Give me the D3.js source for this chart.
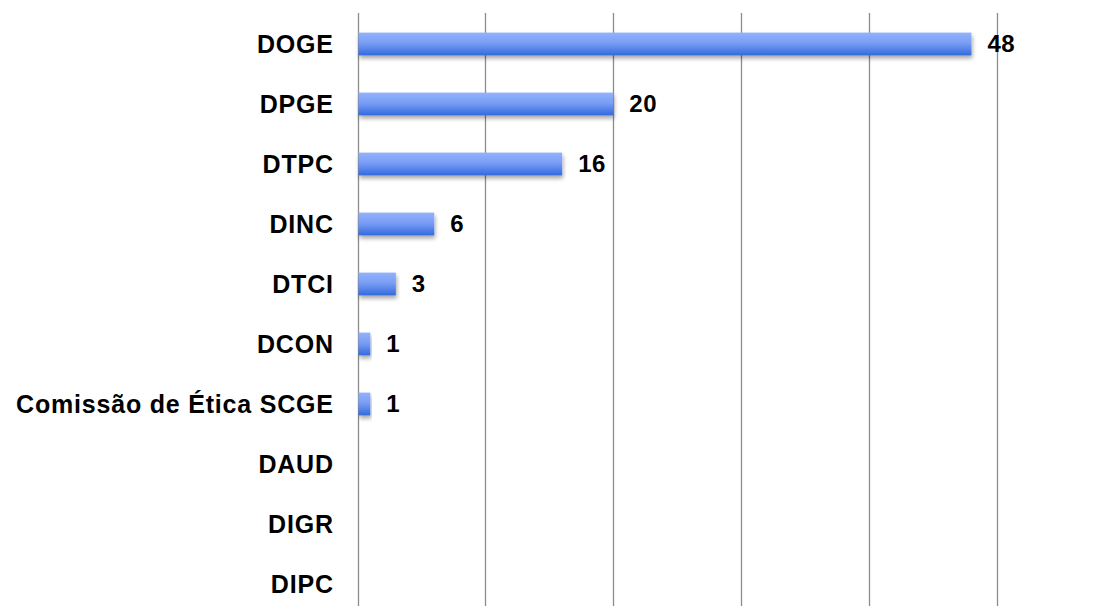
<!DOCTYPE html>
<html><head><meta charset="utf-8">
<script src="https://cdn.jsdelivr.net/npm/d3@7"></script>
<style>body{margin:0;background:#fff}svg{display:block}</style>
</head><body>
<svg id="c" width="1112" height="606"></svg>
<script>
const categories = ["DOGE","DPGE","DTPC","DINC","DTCI","DCON","Comissão de Ética SCGE","DAUD","DIGR","DIPC"];
const values = [48,20,16,6,3,1,1,0,0,0];
const gridTicks = [0,10,20,30,40,50];

const svg = d3.select("#c");
const x = d3.scaleLinear().domain([0,50]).range([357.5,997]);
const y = d3.scaleBand().domain(categories).range([14,614]).paddingInner(0.62).paddingOuter(0.31);

const defs = svg.append("defs");
const g = defs.append("linearGradient").attr("id","bg").attr("x1",0).attr("y1",0).attr("x2",0).attr("y2",1);
g.append("stop").attr("offset","0%").attr("stop-color","#93b2fc");
g.append("stop").attr("offset","45%").attr("stop-color","#7a9ef5");
g.append("stop").attr("offset","100%").attr("stop-color","#336ade");
const f = defs.append("filter").attr("id","sh").attr("x","-5%").attr("y","-30%").attr("width","115%").attr("height","190%");
f.append("feGaussianBlur").attr("in","SourceAlpha").attr("stdDeviation",2);
f.append("feOffset").attr("dx",1).attr("dy",3).attr("result","ob");
f.append("feComponentTransfer").append("feFuncA").attr("type","linear").attr("slope",0.35);
const m = f.append("feMerge"); m.append("feMergeNode"); m.append("feMergeNode").attr("in","SourceGraphic");

// gridlines
svg.append("g").selectAll("line").data(gridTicks).join("line")
  .attr("x1",d=>Math.round(x(d))+0.5).attr("x2",d=>Math.round(x(d))+0.5)
  .attr("y1",13).attr("y2",606)
  .attr("stroke","#8c8c8c").attr("stroke-width",1.3);

// bars
svg.append("g").selectAll("rect").data(values.map((v,i)=>({c:categories[i],v}))).join("rect")
  .filter(d=>d.v>0)
  .attr("x",x(0)+1).attr("y",d=>y(d.c))
  .attr("width",d=>x(d.v)-x(0)-1).attr("height",y.bandwidth())
  .attr("fill","url(#bg)").attr("filter","url(#sh)");

// value labels
svg.append("g").selectAll("text").data(values.map((v,i)=>({c:categories[i],v}))).join("text")
  .filter(d=>d.v>0)
  .attr("x",d=>x(d.v)+16).attr("y",d=>y(d.c)+y.bandwidth()/2)
  .attr("dy","0.35em").attr("letter-spacing","0.5px")
  .attr("font-family","'Liberation Sans', Arial, sans-serif").attr("font-weight","bold").attr("font-size",24)
  .attr("fill","#000").text(d=>d.v);

// category labels
svg.append("g").selectAll("text").data(categories).join("text")
  .attr("x",333.8).attr("y",d=>y(d)+y.bandwidth()/2)
  .attr("dy","0.34em").attr("text-anchor","end").attr("letter-spacing","0.8px")
  .attr("font-family","'Liberation Sans', Arial, sans-serif").attr("font-weight","bold").attr("font-size",25)
  .attr("fill","#000").text(d=>d);
</script>
</body></html>
